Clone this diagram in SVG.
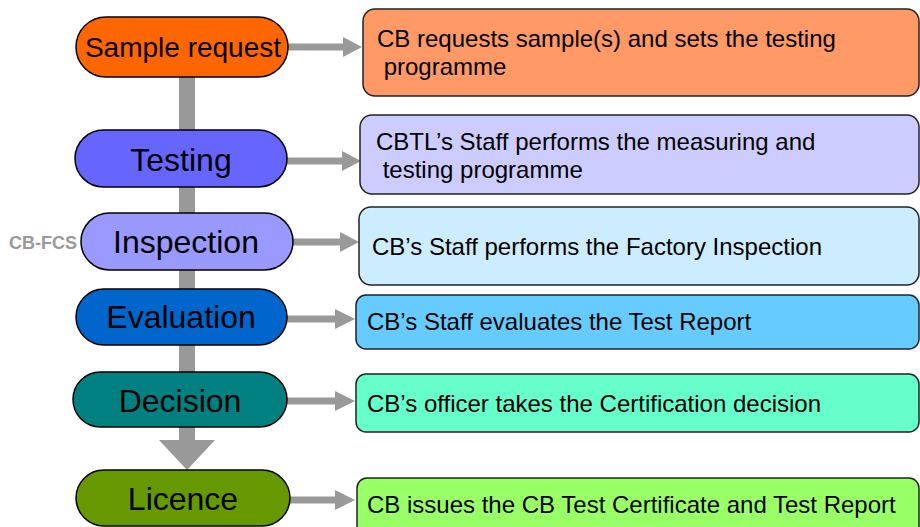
<svg xmlns="http://www.w3.org/2000/svg" width="920" height="527" viewBox="0 0 920 527">
<defs>
<style>
.pill{stroke:#000;stroke-width:1.5}
.box{stroke:#222;stroke-width:1.5}
.pt{font-family:"Liberation Sans",Arial,sans-serif;font-size:32px;fill:#000;text-anchor:middle}
.bt{font-family:"Liberation Sans",Arial,sans-serif;font-size:24px;fill:#000;white-space:pre}
.sh{stroke:#999;stroke-width:7;fill:none}
.hd{fill:#999}
</style>
</defs>
<rect width="920" height="527" fill="#fff"/>
<g id="connectors">
<rect x="179" y="70" width="16" height="372" fill="#999"/>
<polygon points="159,440 215,440 187,470" class="hd"/>
<line x1="285" y1="47" x2="345" y2="47" class="sh"/><polygon points="343,37 362,47 343,57" class="hd"/>
<line x1="284" y1="161" x2="344" y2="161" class="sh"/><polygon points="342,151 361,161 342,171" class="hd"/>
<line x1="290" y1="242" x2="342" y2="242" class="sh"/><polygon points="340,232 359,242 340,252" class="hd"/>
<line x1="284" y1="319" x2="337" y2="319" class="sh"/><polygon points="335,309 355,319 335,329" class="hd"/>
<line x1="284" y1="401" x2="337" y2="401" class="sh"/><polygon points="335,391 355,401 335,411" class="hd"/>
<line x1="287" y1="500" x2="337" y2="500" class="sh"/><polygon points="335,490 355,500 335,510" class="hd"/>
</g>
<g id="n-sample">
<rect x="76" y="17" width="212" height="60" rx="30" fill="#FF6600" class="pill"/>
<text x="183" y="57" class="pt" style="font-size:28px">Sample request</text>
</g>
<g id="n-testing">
<rect x="75" y="130" width="212" height="57" rx="28.5" fill="#6666FF" class="pill"/>
<text x="181" y="171" class="pt">Testing</text>
</g>
<g id="n-inspection">
<rect x="81" y="213" width="212" height="57" rx="28.5" fill="#9999FF" class="pill"/>
<text x="186" y="253" class="pt">Inspection</text>
<text x="9" y="249" style="font-family:'Liberation Sans',Arial,sans-serif;font-size:18px;font-weight:bold;fill:#999">CB-FCS</text>
</g>
<g id="n-evaluation">
<rect x="76" y="289" width="211" height="56" rx="28" fill="#0066CC" class="pill"/>
<text x="181" y="328" class="pt">Evaluation</text>
</g>
<g id="n-decision">
<rect x="73" y="372" width="214" height="55" rx="27.5" fill="#008080" class="pill"/>
<text x="180" y="412" class="pt">Decision</text>
</g>
<g id="n-licence">
<rect x="76" y="470" width="214" height="56" rx="28" fill="#669900" class="pill"/>
<text x="183" y="510" class="pt">Licence</text>
</g>
<g id="b-request">
<rect x="363" y="9" width="556" height="87" rx="12" fill="#FF9966" class="box"/>
<text x="377" y="47" class="bt">CB requests sample(s) and sets the testing</text>
<text x="377" y="75" class="bt"> programme</text>
</g>
<g id="b-testing">
<rect x="360" y="115" width="559" height="79" rx="12" fill="#CCCCFF" class="box"/>
<text x="376" y="150" class="bt">CBTL’s Staff performs the measuring and</text>
<text x="376" y="178" class="bt"> testing programme</text>
</g>
<g id="b-inspection">
<rect x="359" y="207" width="560" height="78" rx="12" fill="#CCECFF" class="box"/>
<text x="372" y="255" class="bt">CB’s Staff performs the Factory Inspection</text>
</g>
<g id="b-evaluation">
<rect x="356" y="295" width="563" height="54" rx="10" fill="#66CCFF" class="box"/>
<text x="367" y="330" class="bt">CB’s Staff evaluates the Test Report</text>
</g>
<g id="b-decision">
<rect x="356" y="374" width="563" height="58" rx="10" fill="#66FFCC" class="box"/>
<text x="367" y="412" class="bt">CB’s officer takes the Certification decision</text>
</g>
<g id="b-licence">
<rect x="357" y="478" width="562" height="60" rx="10" fill="#99FF66" class="box"/>
<text x="367" y="513" class="bt">CB issues the CB Test Certificate and Test Report</text>
</g>
</svg>
